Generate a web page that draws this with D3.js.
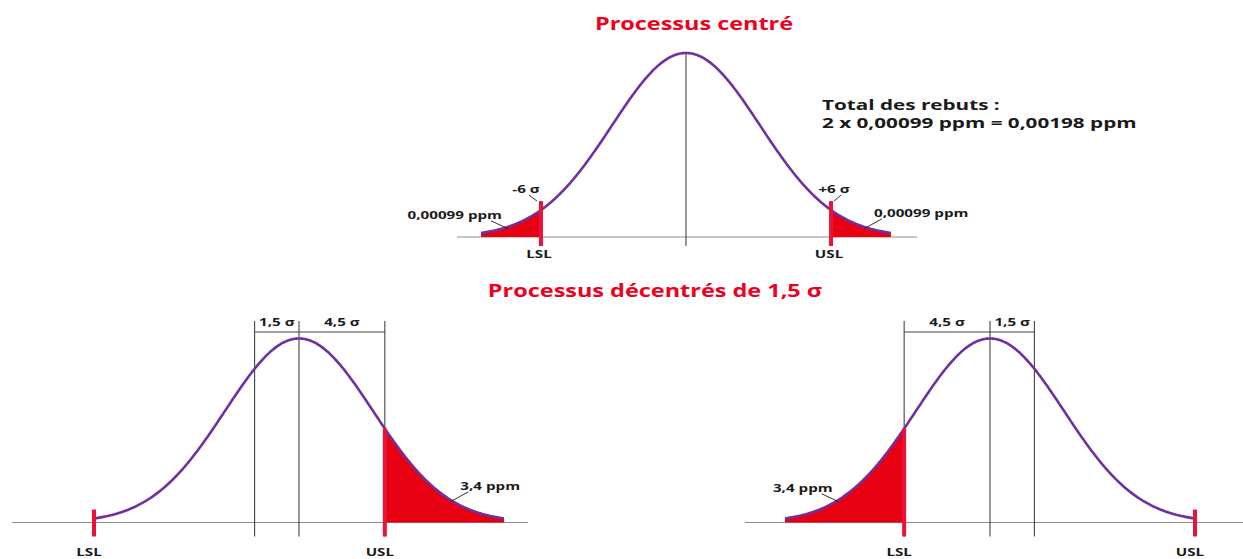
<!DOCTYPE html>
<html>
<head>
<meta charset="utf-8">
<script src="https://cdn.jsdelivr.net/npm/d3@7"></script>
<style>
  body { margin: 0; background: #fff; }
  svg { display: block; }
  text { font-family: "Open Sans", "DejaVu Sans", sans-serif; font-weight: 700; }
</style>
</head>
<body>
<script>
// ---------- data ----------
const titles = ["Processus centré", "Processus décentrés de 1,5 σ"];
const meanShifts = [0, 1.5, -1.5];   // process mean offset from target, in σ
const specLimits = [-6, 6];          // LSL and USL around the target, in σ
const limitNames = ["LSL", "USL"];
const tailPpm = [0.00099, 3.4];      // rejects per tail: centred, shifted by 1.5 σ
const curveSpan = 7.5;               // half-width of the drawn bell, in σ
const totalTitle = "Total des rebuts :";

// ---------- layout ----------
const W = 1243, H = 559;
const UNIT = 74;     // px per unit of bell width
const AMP = 184;     // bell height in px
const SX = 1.38;     // horizontal stretch of lettering
const spread = d3.scaleLinear()          // schematic spacing: σ from mean -> bell units
  .domain([0, 1.5, 4.5, 6, 7.5])
  .range([0, 0.6, 1.16, 1.96, 2.77]);
const toU = d => Math.sign(d) * spread(Math.abs(d));

const loc = d3.formatLocale({ decimal: ",", thousands: " ", grouping: [3], currency: ["", " €"], minus: "-" });
const fmt = loc.format(".6~r");
const fmtSigned = loc.format("+.6~r");

const C = {
  curve: "#7030a0", fill: "#e60012", mark: "#ea1238",
  title: "#f00020", ink: "#1a1a1a", rule: "#444", base: "#8c8c8c"
};

const panels = [
  { shift: meanShifts[0], ppm: tailPpm[0], cx: 686, base: 237,   axis: [-229, 231], tick: 9,  labelDy: 21, dims: false, signed: true },
  { shift: meanShifts[1], ppm: tailPpm[1], cx: 299, base: 522.5, axis: [-287, 229], tick: 14, labelDy: 33, dims: true,  signed: false },
  { shift: meanShifts[2], ppm: tailPpm[1], cx: 990, base: 522.5, axis: [-245, 253], tick: 14, labelDy: 33, dims: true,  signed: false }
];

const svg = d3.select("body").append("svg").attr("width", W).attr("height", H);

// stretched bold label helper
function label(g, x, y, str, opts = {}) {
  return g.append("g")
    .attr("transform", `translate(${x},${y}) scale(${SX},1)`)
    .append("text")
    .attr("text-anchor", opts.anchor || "middle")
    .attr("font-size", opts.size || 11)
    .attr("fill", opts.fill || C.ink)
    .text(str);
}

panels.forEach(p => {
  const g = svg.append("g");
  const x = d3.scaleLinear().domain([-1, 1]).range([p.cx - UNIT, p.cx + UNIT]);
  const y = d3.scaleLinear().domain([0, 1]).range([p.base, p.base - AMP]);
  const dens = u => Math.exp(-u * u / 2);
  const uEnd = toU(curveSpan);
  const us = d3.range(0, 301).map(i => -uEnd + 2 * uEnd * i / 300);

  // baseline
  g.append("line")
    .attr("x1", p.cx + p.axis[0]).attr("x2", p.cx + p.axis[1])
    .attr("y1", p.base).attr("y2", p.base)
    .attr("stroke", C.base).attr("stroke-width", 1.2);

  // limits relative to the process mean
  const limits = specLimits.map((s, i) => {
    const d = s - p.shift;
    const u = toU(d);
    return { i, d, u, px: x(u), py: y(dens(u)), inside: Math.abs(d) < curveSpan };
  });

  // reject tails
  limits.filter(l => l.inside).forEach(l => {
    const tail = us.filter(u => (l.i === 0 ? u <= l.u : u >= l.u));
    if (l.i === 0) tail.push(l.u); else tail.unshift(l.u);
    g.append("path")
      .datum(tail)
      .attr("d", d3.area().x(u => x(u)).y0(p.base).y1(u => y(dens(u))))
      .attr("fill", C.fill);
  });

  // reference lines
  const near = limits.find(l => l.inside && p.dims);
  if (p.dims) {
    const barY = 332, topY = 321;
    const target = x(toU(0 - p.shift));
    const mean = x(0);
    [target, mean, near.px].forEach(px => {
      g.append("line")
        .attr("x1", px).attr("x2", px).attr("y1", topY).attr("y2", p.base + p.tick)
        .attr("stroke", C.rule).attr("stroke-width", 1.1);
    });
    g.append("line")
      .attr("x1", Math.min(target, near.px)).attr("x2", Math.max(target, near.px))
      .attr("y1", barY).attr("y2", barY)
      .attr("stroke", C.rule).attr("stroke-width", 1.1);
    label(g, (target + mean) / 2, barY - 6, fmt(Math.abs(p.shift)) + " σ");
    label(g, (mean + near.px) / 2, barY - 6, fmt(Math.abs(near.d)) + " σ");
  } else {
    g.append("line")
      .attr("x1", x(0)).attr("x2", x(0)).attr("y1", y(1)).attr("y2", p.base + p.tick)
      .attr("stroke", C.rule).attr("stroke-width", 1.1);
  }

  // bell curve
  g.append("path")
    .datum(us)
    .attr("d", d3.line().x(u => x(u)).y(u => y(dens(u))))
    .attr("fill", "none").attr("stroke", C.curve).attr("stroke-width", 2.6)
    .attr("stroke-linejoin", "round");

  // spec limit marks and names
  limits.forEach(l => {
    const ruled = p.dims && l.inside;
    const top = ruled ? l.py : l.py - 9;
    g.append("line")
      .attr("x1", l.px).attr("x2", l.px).attr("y1", top).attr("y2", p.base + p.tick)
      .attr("stroke", C.mark).attr("stroke-width", 4);
    label(g, l.px - (p.dims ? 5 : 2), p.base + p.labelDy, limitNames[l.i]);

    if (p.signed) {
      const left = l.i === 0;
      const tx = left ? l.px - 15 : l.px + 3;
      label(g, tx, top - 8, fmtSigned(specLimits[l.i]) + " σ");
      g.append("line")
        .attr("x1", left ? l.px - 12 : l.px + 10).attr("y1", top - 6)
        .attr("x2", left ? l.px - 4 : l.px + 3).attr("y2", top)
        .attr("stroke", C.ink).attr("stroke-width", 0.9);
    }

    // reject share callout
    if (l.inside) {
      const uT = l.u + (Math.sign(l.u) * uEnd - l.u) * 0.55;
      const tx = x(uT), ty = y(dens(uT)) + 2;
      const left = l.i === 0;
      label(g, left ? tx - 6 : tx + 10, left ? ty - 10 : ty - 12, fmt(p.ppm) + " ppm",
            { anchor: left ? "end" : "start" });
      g.append("line")
        .attr("x1", left ? tx - 17 : tx + 18).attr("y1", left ? ty - 8 : ty - 10)
        .attr("x2", tx).attr("y2", ty)
        .attr("stroke", C.ink).attr("stroke-width", 0.9);
    }
  });
});

// titles
label(svg, 694, 30, titles[0], { size: 17, fill: C.title });
label(svg, 655, 297, titles[1], { size: 17, fill: C.title });

// total rejects for the centred process
const nTails = specLimits.length;
label(svg, 822, 110, totalTitle, { size: 15, anchor: "start" });
label(svg, 822, 128,
  `${nTails} x ${fmt(tailPpm[0])} ppm = ${fmt(nTails * tailPpm[0])} ppm`,
  { size: 15, anchor: "start" });
</script>
</body>
</html>
